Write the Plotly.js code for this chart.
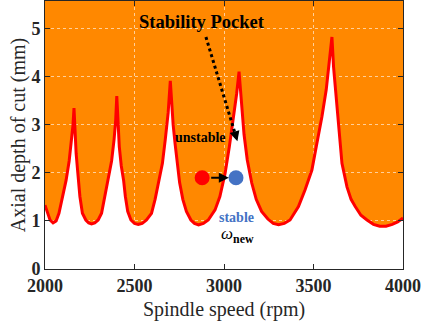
<!DOCTYPE html>
<html>
<head>
<meta charset="utf-8">
<script src="https://cdn.plot.ly/plotly-3.0.1.min.js"></script>
<style>html,body{margin:0;padding:0;background:#fff;}#chart{width:421px;height:330px;}</style>
</head>
<body>
<div id="chart"></div>
<script>
// Stability lobe boundary (spindle speed rpm vs. axial depth of cut mm)
const speed = [
  2000, 2015, 2028, 2045, 2062, 2078, 2097, 2118, 2135, 2148, 2156, 2162,
  2167, 2174, 2181, 2187, 2195, 2209, 2228, 2244, 2260, 2278, 2297, 2316, 2334, 2355, 2372, 2386, 2395, 2401,
  2407, 2415, 2426, 2439, 2449, 2462, 2480, 2500, 2521, 2543, 2567, 2595, 2615, 2636, 2656, 2672, 2688, 2700,
  2708, 2716, 2727, 2740, 2752, 2770, 2790, 2815, 2835, 2858, 2885, 2912, 2950, 2977, 3006, 3030, 3052, 3071, 3084,
  3093, 3102, 3112, 3130, 3155, 3180, 3210, 3245, 3275, 3305, 3337, 3369, 3416, 3453, 3491, 3519, 3547, 3571, 3586, 3603,
  3612, 3627, 3640, 3659, 3687, 3710, 3733, 3765, 3799, 3835, 3870, 3905, 3940, 3970, 4000];
const depth = [
  1.33, 1.16, 1.02, 0.96, 1.00, 1.16, 1.51, 1.85, 2.25, 2.65, 2.98, 3.35,
  2.85, 2.40, 2.10, 1.85, 1.51, 1.16, 1.02, 0.96, 0.94, 0.96, 1.02, 1.16, 1.51, 1.85, 2.25, 2.70, 3.10, 3.60,
  3.00, 2.55, 2.15, 1.85, 1.51, 1.20, 1.02, 0.95, 0.93, 0.95, 1.02, 1.16, 1.45, 1.85, 2.20, 2.70, 3.25, 3.92,
  3.40, 3.00, 2.60, 2.10, 1.80, 1.45, 1.20, 1.02, 0.95, 0.92, 0.95, 1.02, 1.23, 1.51, 1.99, 2.55, 3.10, 3.66, 4.11,
  3.66, 3.20, 2.80, 2.27, 1.79, 1.45, 1.20, 1.04, 0.95, 0.92, 0.95, 1.02, 1.30, 1.65, 2.06, 2.62, 3.17, 3.73, 4.21, 4.83,
  4.21, 3.59, 2.90, 2.20, 1.71, 1.45, 1.30, 1.12, 1.02, 0.93, 0.89, 0.89, 0.93, 0.98, 1.06];

// Operating points
const oldPoint = {speed: [2878], depth: [1.9]};
const newPoint = {speed: [3067], depth: [1.9]};

const xTicks = [2000, 2500, 3000, 3500, 4000];
const yTicks = [0, 1, 2, 3, 4, 5];

const serif = 'Liberation Serif';
const axisColor = '#262626';

const traces = [
  {x: speed, y: depth, type: 'scatter', mode: 'lines', fill: 'tozeroy', fillcolor: '#ffffff',
   line: {color: '#ff0000', width: 3}, hoverinfo: 'skip'},
  {x: oldPoint.speed, y: oldPoint.depth, type: 'scatter', mode: 'markers',
   marker: {color: '#ff0000', size: 15}, hoverinfo: 'skip'},
  {x: newPoint.speed, y: newPoint.depth, type: 'scatter', mode: 'markers',
   marker: {color: '#4472c4', size: 15}, hoverinfo: 'skip'}
];

const layout = {
  width: 421, height: 330,
  margin: {l: 45, r: 18, t: 1, b: 61},
  paper_bgcolor: '#ffffff',
  plot_bgcolor: '#ff8800',
  showlegend: false,
  hovermode: false,
  font: {family: serif},
  xaxis: {
    range: [2000, 4000], tickvals: xTicks, ticktext: xTicks.map(String),
    ticks: 'inside', ticklen: 5, tickcolor: axisColor,
    showline: true, mirror: 'ticks', linecolor: axisColor, linewidth: 1,
    showgrid: true, gridcolor: 'rgba(255,255,255,0.6)', griddash: 'dot', gridwidth: 1,
    zeroline: false,
    tickfont: {family: serif, size: 18, color: axisColor, weight: 'bold'},
    title: {text: 'Spindle speed (rpm)', font: {family: serif, size: 20, color: axisColor}, standoff: 7}
  },
  yaxis: {
    range: [0, 5.58], tickvals: yTicks, ticktext: yTicks.map(String),
    ticks: 'inside', ticklen: 5, tickcolor: axisColor,
    showline: true, mirror: 'ticks', linecolor: axisColor, linewidth: 1,
    showgrid: true, gridcolor: 'rgba(255,255,255,0.6)', griddash: 'dot', gridwidth: 1,
    zeroline: false,
    tickfont: {family: serif, size: 18, color: axisColor, weight: 'bold'},
    title: {text: 'Axial depth of cut (mm)', font: {family: serif, size: 20, color: axisColor}, standoff: 0}
  },
  shapes: [
    {type: 'line', xref: 'x', yref: 'y', x0: 2899, y0: 4.83, x1: 3070, y1: 2.72,
     line: {color: '#000000', width: 3, dash: 'dot'}}
  ],
  annotations: [
    {x: 2878, y: 5.15, xref: 'x', yref: 'y', text: '<b>Stability Pocket</b>', showarrow: false,
     font: {family: serif, size: 18.5, color: '#000000'}},
    {x: 3075, y: 2.66, xref: 'x', yref: 'y', text: '', showarrow: true,
     ax: -3, ay: -10, arrowhead: 2, arrowsize: 1, arrowwidth: 2, arrowcolor: '#000000'},
    {x: 2868, y: 2.73, xref: 'x', yref: 'y', text: '<b>unstable</b>', showarrow: false,
     font: {family: serif, size: 14, color: '#000000'}},
    {x: 3027, y: 1.9, xref: 'x', yref: 'y', ax: 2920, ay: 1.9, axref: 'x', ayref: 'y',
     text: '', showarrow: true, arrowhead: 2, arrowsize: 1, arrowwidth: 2, arrowcolor: '#000000'},
    {x: 3071, y: 1.07, xref: 'x', yref: 'y', text: '<b>stable</b>', showarrow: false,
     font: {family: serif, size: 14, color: '#4472c4'}},
    {x: 3075, y: 0.7, xref: 'x', yref: 'y', text: '<i>ω</i><sub><b>new</b></sub>', showarrow: false,
     font: {family: serif, size: 17, color: '#000000'}}
  ]
};

Plotly.newPlot('chart', traces, layout, {displayModeBar: false, staticPlot: true});
</script>
</body>
</html>
